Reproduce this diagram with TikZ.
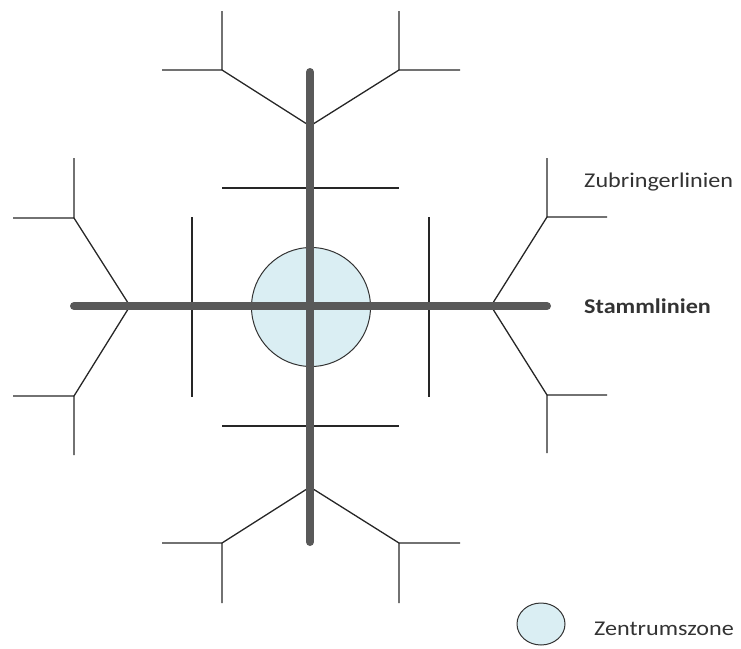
\documentclass[tikz,border=0pt]{standalone}
\usepackage{fontspec}
\usetikzlibrary{shapes.geometric}
\newfontfamily\lab[FakeStretch=1.15]{Carlito}
\definecolor{trunk}{HTML}{595959}
\definecolor{feeder}{HTML}{262626}
\definecolor{zone}{HTML}{DAEEF3}
\definecolor{txt}{HTML}{333333}
\tikzset{
  trunkline/.style={line width=8pt, draw=trunk, line cap=round},
  feedline/.style={line width=1.3pt, draw=feeder},
  zonecircle/.style={circle, draw=black!80, line width=1pt, fill=zone, inner sep=0pt},
  labeltext/.style={anchor=base west, inner sep=0pt, text=txt, font=\lab\fontsize{21}{25}\selectfont}
}
\begin{document}
\begin{tikzpicture}[x=1pt,y=-1pt]
\useasboundingbox (0,0) rectangle (741,648);
% centre zone
\node[zonecircle, minimum size=119pt] (zone) at (311,307) {};
% coordinates of the network
\coordinate (top) at (310,72);
\coordinate (bot) at (310,542);
\coordinate (lft) at (74,306);
\coordinate (rgt) at (547,306);
\coordinate (T) at (310,126);
\coordinate (B) at (310,487);
\coordinate (L) at (130,306);
\coordinate (R) at (491,306);
\coordinate (TL) at (222,70); \coordinate (TLu) at (222,11); \coordinate (TLs) at (162,70);
\coordinate (TR) at (399,70); \coordinate (TRu) at (399,11); \coordinate (TRs) at (460,70);
\coordinate (BL) at (222,543); \coordinate (BLd) at (222,603); \coordinate (BLs) at (162,543);
\coordinate (BR) at (399,543); \coordinate (BRd) at (399,603); \coordinate (BRs) at (460,543);
\coordinate (LU) at (74,218); \coordinate (LUu) at (74,158); \coordinate (LUs) at (13,218);
\coordinate (LD) at (74,396); \coordinate (LDd) at (74,455); \coordinate (LDs) at (13,396);
\coordinate (RU) at (547,217); \coordinate (RUu) at (547,158); \coordinate (RUs) at (607,217);
\coordinate (RD) at (547,395); \coordinate (RDd) at (547,453); \coordinate (RDs) at (607,395);
\coordinate (cT1) at (222,188); \coordinate (cT2) at (399,188);
\coordinate (cB1) at (222,426); \coordinate (cB2) at (399,426);
\coordinate (cL1) at (192,217); \coordinate (cL2) at (192,397);
\coordinate (cR1) at (429,217); \coordinate (cR2) at (429,397);
% feeder lines
\draw[feedline] (TLs) -- (TL) -- (TLu) (TL) -- (T) -- (TR) -- (TRu) (TR) -- (TRs);
\draw[feedline] (BLs) -- (BL) -- (BLd) (BL) -- (B) -- (BR) -- (BRd) (BR) -- (BRs);
\draw[feedline] (LUs) -- (LU) -- (LUu) (LU) -- (L) -- (LD) -- (LDd) (LD) -- (LDs);
\draw[feedline] (RUs) -- (RU) -- (RUu) (RU) -- (R) -- (RD) -- (RDd) (RD) -- (RDs);
\draw[feedline] (cT1) -- (cT2) (cB1) -- (cB2) (cL1) -- (cL2) (cR1) -- (cR2);
% trunk lines
\draw[trunkline] (top) -- (bot);
\draw[trunkline] (lft) -- (rgt);
% labels
\node[labeltext] (zub) at (584,187) {Zubringerlinien};
\node[labeltext, font=\lab\bfseries\fontsize{21}{25}\selectfont] (stamm) at (584,313) {Stammlinien};
\node[zonecircle, ellipse, minimum width=48pt, minimum height=42pt] (legend) at (541,624) {};
\node[labeltext] (zz) at (594,635) {Zentrumszone};
\end{tikzpicture}
\end{document}
